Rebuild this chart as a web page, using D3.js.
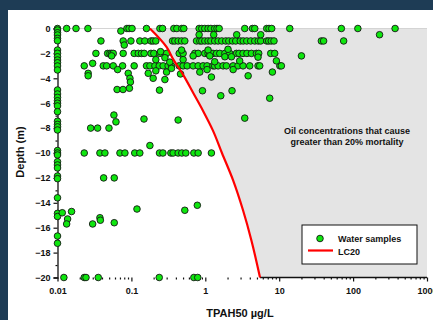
<!DOCTYPE html>
<html><head><meta charset="utf-8">
<script src="https://cdn.jsdelivr.net/npm/d3@7"></script>
<style>
html,body{margin:0;padding:0;background:#1e3c55;}
svg{display:block;}
text{font-family:"Liberation Sans",Arial,sans-serif;font-weight:bold;fill:#111;}
</style></head>
<body>
<script>
// ---- data ----
const xTickValues = [0.01, 0.1, 1, 10, 100, 1000];
const xTickLabels = ["0.01", "0.1", "1", "10", "100", "1000"];
const yTickValues = [0, -2, -4, -6, -8, -10, -12, -14, -16, -18, -20];

// samples sitting on the 0.01 detection limit (depths, m)
const col001Depths = [0,0.12,0.34,0.52,0.79,0.98,1.73,1.99,2.27,2.53,2.75,3.01,3.33,4.94,5.26,5.53,5.8,6.0,6.22,6.68,7.45,7.7,7.9,8.15,9.8,10.0,10.16,10.7,10.96,11.2,11.85,12.06,13.6,14.85,15.1,16.67,17.25];

// samples at standard depths (TPAH50, ug/L)
const tpahAt0 = [0.0133,0.0178,0.0258,0.087,0.093,0.102,0.16,0.243,0.264,0.375,0.412,0.481,0.512,0.825,0.897,0.985,1.09,1.19,1.34,1.44,1.54,3.42,4.35,4.67,6.78,7.28,7.92,13.9,69.3,116,370];
const tpahAt1 = [0.0387,0.0774,0.0985,0.130,0.152,0.184,0.197,0.214,0.36,0.387,0.429,0.477,0.528,0.76,0.843,0.897,0.985,1.09,1.19,1.34,1.49,1.67,1.89,2.08,2.33,2.58,2.97,3.26,3.64,4.12,4.67,5.2,5.62,6.78,7.21,7.8,8.5,37.2,39.9,74.5];
const tpahAt2 = [0.0331,0.0477,0.0512,0.054,0.0568,0.0774,0.109,0.124,0.137,0.149,0.184,0.201,0.243,0.299,0.443,0.501,0.721,0.80,0.985,1.09,1.15,1.27,1.42,1.57,1.84,2.14,2.64,2.86,3.24,3.66,4.21,4.92,5.28,7.68,8.69];
const tpahAt3 = [0.023,0.0416,0.0462,0.0568,0.076,0.109,0.16,0.178,0.208,0.238,0.269,0.314,0.349,0.443,0.501,0.568,0.684,0.80,0.934,1.057,1.27,1.34,1.49,1.74,1.93,2.38,2.77,3.24,3.99,5.17,5.45,10.2,10.7];
const tpahAt8 = [0.0281,0.0349,0.0497];
const tpahAt10 = [0.023,0.0375,0.0438,0.070,0.0817,0.111,0.130,0.240,0.267,0.342,0.367,0.429,0.481,0.545,0.70,0.80,1.21];
const tpahAt12 = [0.0421,0.0586];
const tpahAt20 = [0.0122,0.023,0.0243,0.0356,0.238,0.70,0.79];

// other samples (depth m, TPAH50 ug/L)
const otherDepth = [0.2,0.5,0.5,0.5,0.5,0.5,1.33,1.86,1.73,1.73,1.67,2.2,2.2,2.2,2.2,2.27,2.27,2.35,2.5,2.5,2.3,2.6,2.6,2.67,2.7,2.8,3.3,3.3,3.3,3.4,3.5,3.5,3.5,3.2,3.6,3.6,3.6,3.65,3.8,3.8,3.9,4.0,4.0,4.1,4.3,4.8,4.9,4.9,4.95,5.0,5.0,5.4,5.6,6.95,7.5,7.27,7.35,7.2,9.4,14.5,14.6,14.2,14.8,14.7,15.3,15.7,15.7,15.2,15.4,15.6];
const otherTpah  = [0.072,0.825,1.30,2.66,5.62,228,0.080,0.248,0.477,1.09,2.03,0.054,0.684,1.15,20.0,1.84,2.26,0.284,0.214,0.501,5.17,2.92,9.16,1.34,0.331,0.0299,0.0651,1.057,2.38,0.214,0.299,0.843,8.09,0.349,0.026,0.0906,0.169,0.462,0.026,3.8,1.21,0.0955,0.197,0.284,0.097,0.094,0.064,0.077,0.24,0.916,2.30,1.62,7.44,0.058,0.0618,0.148,0.429,3.42,0.178,0.119,0.528,0.78,0.0116,0.0155,0.0137,0.0133,0.0299,0.0375,0.038,0.0586];

// LC20 curve
const lc20Depth = [0,1.5,2.5,3.7,5.2,6.6,8.2,10,12.2,14.6,17,20];
const lc20Tpah  = [0.178,0.30,0.37,0.50,0.69,0.93,1.27,1.68,2.38,3.24,4.2,5.5];

// ---- build ----
const samples = [];
col001Depths.forEach(d => samples.push({d:-d, v:0.01}));
[[0,tpahAt0],[1,tpahAt1],[2,tpahAt2],[3,tpahAt3],[8,tpahAt8],[10,tpahAt10],[12,tpahAt12],[20,tpahAt20]]
  .forEach(([d,arr]) => arr.forEach(v => samples.push({d:-d, v})));
otherDepth.forEach((d,i) => samples.push({d:-d, v:otherTpah[i]}));
const lc20 = lc20Depth.map((d,i) => ({d:-d, v:lc20Tpah[i]}));

const W = 433, H = 320;
const svg = d3.select("body").append("svg").attr("width", W).attr("height", H);
svg.append("rect").attr("x",8).attr("y",10).attr("width",W-8).attr("height",H-10).attr("fill","#fff");

const x = d3.scaleLog().domain([0.01,1000]).range([57.5,427]);
const y = d3.scaleLinear().domain([0,-20]).range([28.5,277.5]);

// shaded region
const curveGen = d3.line().x(p => x(p.v)).y(p => y(p.d)).curve(d3.curveMonotoneY);
const areaPath = curveGen(lc20) + `L${x(1000)},${y(-20)}L${x(1000)},${y(0)}Z`;
svg.append("path").attr("d", areaPath).attr("fill","#e4e4e4").attr("stroke","none");
// light top line
svg.append("line").attr("x1",x(0.01)).attr("x2",x(1000)).attr("y1",y(0)).attr("y2",y(0))
  .attr("stroke","#d4d4d4").attr("stroke-width",1);

// x axis: minor + major ticks
const minor = [];
for (let e=-2;e<3;e++) for (let k=2;k<10;k++) minor.push(k*Math.pow(10,e));
const gxMinor = svg.append("g").attr("transform",`translate(0,${y(-20)})`)
  .call(d3.axisBottom(x).tickValues(minor).tickSize(2).tickFormat(""));
gxMinor.select(".domain").remove();
const gx = svg.append("g").attr("transform",`translate(0,${y(-20)})`)
  .call(d3.axisBottom(x).tickValues(xTickValues).tickSize(4).tickPadding(6)
        .tickFormat((d,i) => xTickLabels[i]));
gx.select(".domain").remove();
gx.selectAll("text").attr("font-size",9).attr("fill","#111");
// axis line under shaded region
svg.append("line").attr("x1",x(lc20Tpah[lc20Tpah.length-1])).attr("x2",x(1000))
  .attr("y1",y(-20)).attr("y2",y(-20)).attr("stroke","#111").attr("stroke-width",1.3);

// y axis
const yMinor = d3.range(-1,-20,-2);
const gyMinor = svg.append("g").attr("transform",`translate(${x(0.01)},0)`)
  .call(d3.axisLeft(y).tickValues(yMinor).tickSize(2).tickFormat(""));
gyMinor.select(".domain").remove();
const gy = svg.append("g").attr("transform",`translate(${x(0.01)},0)`)
  .call(d3.axisLeft(y).tickValues(yTickValues).tickSize(4).tickPadding(3).tickFormat(d3.format("d")));
gy.select(".domain").attr("stroke","#111").attr("stroke-width",1.3);
gy.selectAll("text").attr("font-size",9).attr("fill","#111");
svg.selectAll(".tick line").attr("stroke","#111").attr("stroke-width",1.2);

// points
svg.append("g").selectAll("circle").data(samples).join("circle")
  .attr("cx", p => x(p.v)).attr("cy", p => y(p.d)).attr("r",3.3)
  .attr("fill","#0ee60e").attr("stroke","#151515").attr("stroke-width",0.9);

// LC20 curve
svg.append("path").attr("d", curveGen(lc20)).attr("fill","none")
  .attr("stroke","#ff0000").attr("stroke-width",2.2);

// annotation
svg.append("text").attr("x",347).attr("y",134).attr("text-anchor","middle").attr("font-size",9)
  .text("Oil concentrations that cause");
svg.append("text").attr("x",347).attr("y",145).attr("text-anchor","middle").attr("font-size",9)
  .text("greater than 20% mortality");

// legend
const lg = svg.append("g");
lg.append("rect").attr("x",302).attr("y",225).attr("width",115).attr("height",39)
  .attr("fill","#fff").attr("stroke","#111").attr("stroke-width",1);
lg.append("circle").attr("cx",320).attr("cy",238.5).attr("r",3.3)
  .attr("fill","#0ee60e").attr("stroke","#151515").attr("stroke-width",0.9);
lg.append("text").attr("x",338).attr("y",242).attr("font-size",9).text("Water samples");
lg.append("line").attr("x1",308).attr("x2",333).attr("y1",250.5).attr("y2",250.5)
  .attr("stroke","#ff0000").attr("stroke-width",2.2);
lg.append("text").attr("x",338).attr("y",254.5).attr("font-size",9).text("LC20");

// axis titles
svg.append("text").attr("x",240).attr("y",317).attr("text-anchor","middle").attr("font-size",11)
  .text("TPAH50 µg/L");
svg.append("text").attr("transform","translate(24,152) rotate(-90)").attr("text-anchor","middle")
  .attr("font-size",11).text("Depth (m)");
</script>
</body></html>
